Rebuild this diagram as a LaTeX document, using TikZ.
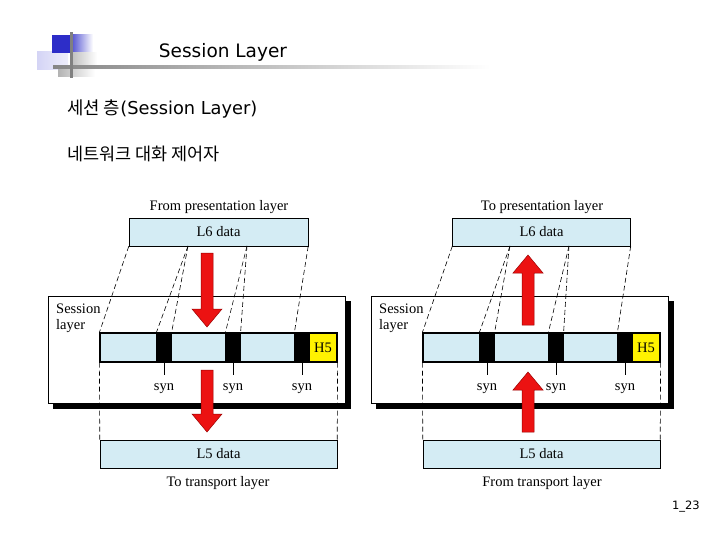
\documentclass[tikz,border=0pt]{standalone}
\usepackage{fontspec}
\setmainfont{Liberation Serif}
\newfontfamily\krfont{Noto Sans CJK KR}
\newfontfamily\hdfont{DejaVu Sans}
\usetikzlibrary{shadows,positioning}
\definecolor{boxblue}{RGB}{212,236,244}
\definecolor{arrowred}{RGB}{236,18,18}
\definecolor{decoblue}{RGB}{45,45,200}
\definecolor{decolav}{RGB}{212,212,245}
\tikzset{
    databox/.style ={
        rectangle,
        draw=black,
        fill=boxblue,
        minimum height =28pt,
        inner sep=0pt,
        font=\fontsize{14.5}{16}\selectfont
    },
    seg/.style ={
        rectangle,
        draw=black,
        line width=1.2pt,
        fill=boxblue,
        minimum height =29pt,
        inner sep=0pt
    },
    synblk/.style ={seg, fill=black, minimum width=14pt},
    hdr/.style ={seg, fill=yellow, minimum width=28pt, font=\fontsize{14.5}{16}\selectfont},
    sessbox/.style ={
        rectangle,
        draw=black,
        fill=white,
        minimum width =297pt,
        minimum height =107pt,
        copy shadow={shadow xshift=5pt, shadow yshift=-5pt, fill=black, draw=black}
    },
    lbl/.style ={font=\fontsize{14.5}{16}\selectfont, inner sep=0pt},
    synlbl/.style ={lbl, anchor=north, text height=15pt},
    dashline/.style ={dash pattern=on 5pt off 3pt, line width=0.6pt},
    bigarrow/.style ={fill=arrowred, draw=red!60!black, line width=0.5pt}
}
\begin{document}
\begin{tikzpicture}[x=1pt,y=-1pt]
        \useasboundingbox (0,0) rectangle (720,540);
        % slide decoration
        \shade[left color=decolav, right color=decolav!40] (37,52) rectangle (68,70);
        \fill[decoblue] (52,35) rectangle (72,53);
        \shade[left color=decoblue!80, right color=white] (72,35) rectangle (93,53);
        \shade[left color=gray!50, right color=white] (72,53) rectangle (97,66);
        \shade[left color=gray!60, right color=white] (58,69) rectangle (95,77);
        \shade[left color=gray!95, right color=white] (53,65.5) rectangle (490,68.5);
        \fill[gray] (69.5,32) rectangle (72.5,78);
        \node[anchor=base, inner sep=0pt, font=\hdfont\fontsize{18.5}{22}\selectfont] (TITLE) at(223,58) {Session Layer};
        \node[anchor=base west, inner sep=0pt, font=\hdfont\fontsize{17.8}{20}\selectfont] (LINE1) at(67,115) {{\krfont 세션 층}(Session Layer)};
        \node[anchor=base west, inner sep=0pt, font=\krfont\fontsize{17.5}{20}\selectfont] (LINE2) at(67,161) {네트워크 대화 제어자};
        \node[anchor=base east, inner sep=0pt, font=\hdfont\fontsize{11.5}{14}\selectfont] (PAGENO) at(700,509) {1\_23};

        % sender side
        \node[sessbox] (SESSL) at(196.5,349.5) {};
        \node[lbl, anchor=north west, align=left] (SESSLBLL) at(56,304) {Session\\layer};
        \node[lbl] (FROMPRES) at(219,207) {From presentation layer};
        \node[databox, minimum width=179pt] (L6L) at(218.5,232) {L6 data};
        \node[seg, minimum width=57pt] (SEGL1) at(128.5,347.5) {};
        \node[synblk] (SYNL1) at(164,347.5) {};
        \node[seg, minimum width=55pt] (SEGL2) at(198.5,347.5) {};
        \node[synblk] (SYNL2) at(233,347.5) {};
        \node[seg, minimum width=55pt] (SEGL3) at(267.5,347.5) {};
        \node[synblk] (SYNL3) at(302,347.5) {};
        \node[hdr] (H5L) at(323,347.5) {H5};
        \node[synlbl] (SYNLBLL1) at(164,375) {syn};
        \node[synlbl] (SYNLBLL2) at(233,375) {syn};
        \node[synlbl] (SYNLBLL3) at(302,375) {syn};
        \node[databox, minimum width=237pt] (L5L) at(218.5,454) {L5 data};
        \node[lbl] (TOTRANS) at(218,483) {To transport layer};
        \coordinate (L6LA) at(188,246);
        \coordinate (L6LB) at(247,246);
        \draw (SYNL1)--(SYNLBLL1);
        \draw (SYNL2)--(SYNLBLL2);
        \draw (SYNL3)--(SYNLBLL3);
        \draw[dashline] (L6L.south west)--(SEGL1.north west);
        \draw[dashline] (L6LA)--(SYNL1.north west);
        \draw[dashline] (L6LA)--(SYNL1.north east);
        \draw[dashline] (L6LB)--(SYNL2.north west);
        \draw[dashline] (L6LB)--(SYNL2.north east);
        \draw[dashline] (L6L.south east)--(SYNL3.north west);
        \draw[dashline] (SEGL1.south west)--(L5L.north west);
        \draw[dashline] (H5L.south east)--(L5L.north east);
        \draw[bigarrow] (201,253)--(213,253)--(213,309)--(222,309)--(207,327)--(192,309)--(201,309)--cycle;
        \draw[bigarrow] (201,370)--(213,370)--(213,414)--(222,414)--(207,432)--(192,414)--(201,414)--cycle;

        % receiver side
        \node[sessbox] (SESSR) at(519.5,349.5) {};
        \node[lbl, anchor=north west, align=left] (SESSLBLR) at(379,304) {Session\\layer};
        \node[lbl] (TOPRES) at(542,207) {To presentation layer};
        \node[databox, minimum width=178pt] (L6R) at(541.5,232) {L6 data};
        \node[seg, minimum width=57pt] (SEGR1) at(451.5,347.5) {};
        \node[synblk] (SYNR1) at(487,347.5) {};
        \node[seg, minimum width=55pt] (SEGR2) at(521.5,347.5) {};
        \node[synblk] (SYNR2) at(556,347.5) {};
        \node[seg, minimum width=55pt] (SEGR3) at(590.5,347.5) {};
        \node[synblk] (SYNR3) at(625,347.5) {};
        \node[hdr] (H5R) at(646,347.5) {H5};
        \node[synlbl] (SYNLBLR1) at(487,375) {syn};
        \node[synlbl] (SYNLBLR2) at(556,375) {syn};
        \node[synlbl] (SYNLBLR3) at(625,375) {syn};
        \node[databox, minimum width=237pt] (L5R) at(541.5,454) {L5 data};
        \node[lbl] (FROMTRANS) at(542,483) {From transport layer};
        \coordinate (L6RA) at(510,246);
        \coordinate (L6RB) at(569,246);
        \draw (SYNR1)--(SYNLBLR1);
        \draw (SYNR2)--(SYNLBLR2);
        \draw (SYNR3)--(SYNLBLR3);
        \draw[dashline] (L6R.south west)--(SEGR1.north west);
        \draw[dashline] (L6RA)--(SYNR1.north west);
        \draw[dashline] (L6RA)--(SYNR1.north east);
        \draw[dashline] (L6RB)--(SYNR2.north west);
        \draw[dashline] (L6RB)--(SYNR2.north east);
        \draw[dashline] (L6R.south east)--(SYNR3.north west);
        \draw[dashline] (SEGR1.south west)--(L5R.north west);
        \draw[dashline] (H5R.south east)--(L5R.north east);
        \draw[bigarrow] (513,273)--(528,255)--(543,273)--(534,273)--(534,325)--(522,325)--(522,273)--cycle;
        \draw[bigarrow] (513,390)--(528,372)--(543,390)--(534,390)--(534,432)--(522,432)--(522,390)--cycle;
    \end{tikzpicture}
\end{document}
